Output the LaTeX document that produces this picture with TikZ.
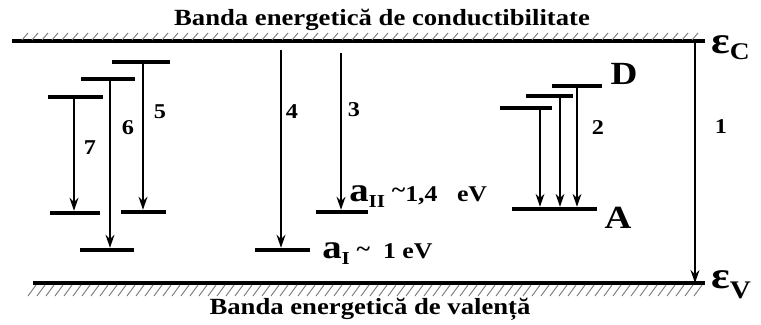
\documentclass[tikz,border=0pt]{standalone}
\usepackage{fontspec}
\setmainfont{Liberation Serif}[FakeStretch=1.15]
\usetikzlibrary{arrows.meta}
\tikzset{
band/.style={line width=2.2pt,black},
hatch/.style={black!50,line width=0.7pt},
level/.style={line width=3.4pt,black},
trans/.style={-{Stealth[length=3.2mm,width=2.2mm]},line width=1.5pt,black,shorten >=1.6pt},
bandlabel/.style={font=\fontsize{16.5}{18}\selectfont\bfseries,inner sep=0pt},
numlabel/.style={font=\fontsize{15}{16}\selectfont\bfseries,inner sep=0pt},
letterlabel/.style={font=\fontsize{23}{24}\selectfont\bfseries,inner sep=0pt},
enlabel/.style={font=\bfseries,inner sep=0pt,anchor=base west}
}
\begin{document}
\begin{tikzpicture}[x=0.025cm,y=-0.025cm]
\useasboundingbox (0,0) rectangle (761,324);
% bands
\coordinate (cL) at (12,41);
\coordinate (cR) at (705,41);
\coordinate (vL) at (33,283);
\coordinate (vR) at (705,283);
\draw[band] (cL) -- (cR);
\draw[band] (vL) -- (vR);
\foreach \x in {22,32,...,700} {
\draw[hatch] (\x,40) -- (\x+6,33);
}
\foreach \x in {36,45,...,705} {
\draw[hatch] (\x,285) -- (\x-8,296);
}
\node[bandlabel] (cond) at (382,20) {Banda energetică de conductibilitate};
\node[bandlabel] (val) at (370,309) {Banda energetică de valență};
\node[enlabel] (eC) at (711,53) {\fontsize{27}{27}\selectfont ε\raisebox{-1.5mm}{\fontsize{17}{17}\selectfont C}};
\node[enlabel] (eV) at (711,288) {\fontsize{27}{27}\selectfont ε\raisebox{-2.5mm}{\fontsize{18}{18}\selectfont V}};
% transition 1
\coordinate (top1) at (695,41);
\coordinate (bot1) at (695,283);
\draw[trans,shorten >=0pt] (top1) -- (bot1);
% left group
\foreach \n/\x/\ytop/\ybot/\tl/\tr/\bl/\br in {7/74/97/213/48/103/50/100,6/110/79/250/81/135/80/134,5/143/62/212/112/170/121/166} {
\coordinate (top\n) at (\x,\ytop);
\coordinate (bot\n) at (\x,\ybot);
\draw[level] (\tl,\ytop) -- (\tr,\ytop);
\draw[level] (\bl,\ybot) -- (\br,\ybot);
\draw[trans] (top\n) -- (bot\n);
}
% deep levels a_I, a_II
\coordinate (top4) at (281,50);
\coordinate (bot4) at (281,250);
\coordinate (top3) at (341,53);
\coordinate (bot3) at (341,212);
\draw[level] (255,250) -- (310,250);
\draw[level] (316,212) -- (368,212);
\draw[trans] (top4) -- (bot4);
\draw[trans] (top3) -- (bot3);
\node[enlabel] (aI) at (322,258) {\fontsize{24}{24}\selectfont a\raisebox{-1.6mm}{\fontsize{13}{13}\selectfont I}\fontsize{16}{16}\selectfont\hspace{0.3em}\raisebox{0.5mm}{\textasciitilde}\ \ 1\ eV};
\node[enlabel] (aII) at (349,201) {\fontsize{24}{24}\selectfont a\raisebox{-1.6mm}{\fontsize{13}{13}\selectfont II}\fontsize{16}{16}\selectfont\hspace{0.3em}\raisebox{1mm}{\textasciitilde}1,4\ \ \ eV};
% donor - acceptor
\draw[level] (552,86) -- (602,86);
\draw[level] (526,96) -- (573,96);
\draw[level] (500,108) -- (552,108);
\draw[level] (512,209) -- (597,209);
\foreach \n/\x/\y in {a/540/108,b/560/96,c/577/86} {
\coordinate (d\n) at (\x,\y);
\coordinate (e\n) at (\x,209);
\draw[trans,line width=1.3pt] (d\n) -- (e\n);
}
\node[letterlabel] (D) at (624,74) {D};
\node[letterlabel] (A) at (618,218) {A};
% transition labels
\node[numlabel] (n1) at (721,127) {1};
\node[numlabel] (n2) at (598,128) {2};
\node[numlabel] (n3) at (354,110) {3};
\node[numlabel] (n4) at (292,112) {4};
\node[numlabel] (n5) at (160,112) {5};
\node[numlabel] (n6) at (128,128) {6};
\node[numlabel] (n7) at (90,148) {7};
\end{tikzpicture}
\end{document}
